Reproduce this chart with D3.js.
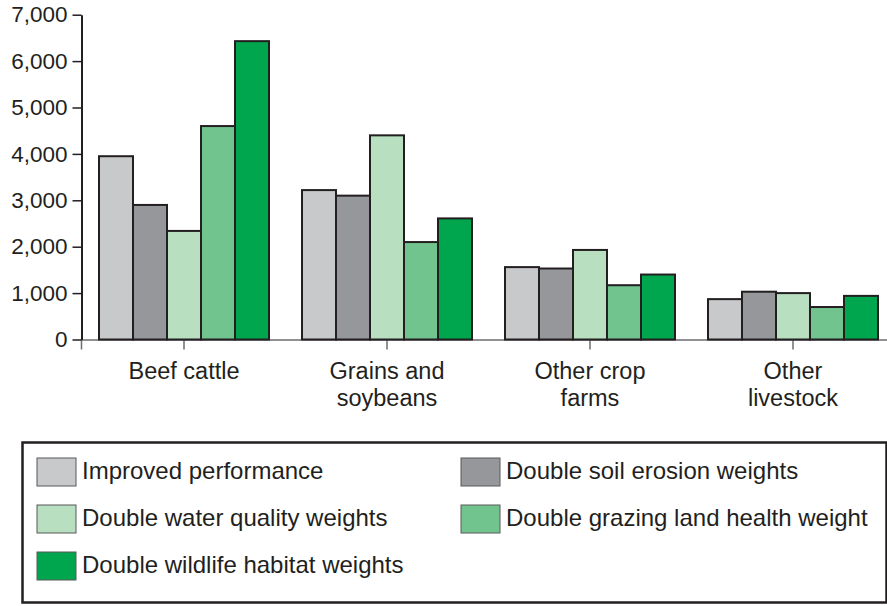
<!DOCTYPE html>
<html>
<head>
<meta charset="utf-8">
<script src="https://cdn.jsdelivr.net/npm/d3@7"></script>
<style>
  html, body { margin: 0; padding: 0; background: #fff; }
  svg { display: block; font-family: "Liberation Sans", Arial, sans-serif; }
</style>
</head>
<body>
<svg id="chart" width="887" height="606"></svg>
<script>
// categories (x groups), each label split into lines
const categories = ["Beef cattle", "Grains and soybeans", "Other crop farms", "Other livestock"];
const categoryLines = [["Beef cattle"], ["Grains and", "soybeans"], ["Other crop", "farms"], ["Other", "livestock"]];

// series names (legend order)
const seriesNames = [
    "Improved performance",
    "Double soil erosion weights",
    "Double water quality weights",
    "Double grazing land health weight",
    "Double wildlife habitat weights"
];
const seriesColors = ["#c8c9cb", "#96979b", "#b7dfc0", "#72c48f", "#00a64d"];

// values per series, one per category
const improvedPerformance = [3950, 3220, 1560, 870];
const doubleSoilErosion   = [2900, 3100, 1530, 1030];
const doubleWaterQuality  = [2340, 4400, 1930, 1000];
const doubleGrazingLand   = [4600, 2100, 1170, 700];
const doubleWildlife      = [6430, 2610, 1400, 940];

const yTicks = [0, 1000, 2000, 3000, 4000, 5000, 6000, 7000];

const seriesValues = [improvedPerformance, doubleSoilErosion, doubleWaterQuality, doubleGrazingLand, doubleWildlife];

//build table: one row per category with every series value
const table = categories.map((c, i) => ({
    category: c,
    lines: categoryLines[i],
    values: seriesNames.map((s, j) => ({ series: s, value: seriesValues[j][i] }))
}));

const ink = "#231f20";
const svg = d3.select("#chart");

//scales
const x = d3.scaleBand()
    .domain(categories)
    .range([81, 896])
    .paddingInner(0.1626)
    .paddingOuter(0.0887);

const xInner = d3.scaleBand()
    .domain(seriesNames)
    .range([0, x.bandwidth()])
    .padding(0);

const y = d3.scaleLinear()
    .domain([0, 7000])
    .range([339.5, 14.7]);

const color = d3.scaleOrdinal().domain(seriesNames).range(seriesColors);

//x axis (thin gray line + ticks under the groups)
const xAxis = svg.append("g")
    .attr("transform", `translate(0,${y(0)})`)
    .call(d3.axisBottom(x).tickSizeOuter(0).tickSize(10).tickFormat(""));
xAxis.select(".domain").attr("stroke", "#6d6e71").attr("stroke-width", 1.5);
xAxis.selectAll(".tick line").attr("stroke", "#6d6e71").attr("stroke-width", 1.5);

//bars
svg.append("g")
    .selectAll("g")
    .data(table)
    .join("g")
    .attr("transform", d => `translate(${x(d.category)},0)`)
    .selectAll("rect")
    .data(d => d.values)
    .join("rect")
    .attr("x", d => xInner(d.series))
    .attr("y", d => y(d.value))
    .attr("width", xInner.bandwidth())
    .attr("height", d => y(0) - y(d.value))
    .attr("fill", d => color(d.series))
    .attr("stroke", ink)
    .attr("stroke-width", 2);

//y axis
const yAxis = svg.append("g")
    .attr("transform", "translate(81.5,0)")
    .call(d3.axisLeft(y)
        .tickValues(yTicks)
        .tickSize(9)
        .tickSizeOuter(0)
        .tickPadding(5)
        .tickFormat(d3.format(",")));
yAxis.select(".domain").attr("stroke", ink).attr("stroke-width", 2);
yAxis.selectAll(".tick line").attr("stroke", ink).attr("stroke-width", 1.5);
yAxis.selectAll(".tick text")
    .attr("fill", ink)
    .style("font-size", "22.5px")
    .style("font-family", "Liberation Sans, Arial, sans-serif");

//category labels
svg.append("g")
    .selectAll("text")
    .data(table)
    .join("text")
    .attr("text-anchor", "middle")
    .attr("fill", ink)
    .style("font-size", "23.5px")
    .selectAll("tspan")
    .data(d => d.lines.map(l => ({ line: l, category: d.category })))
    .join("tspan")
    .attr("x", d => x(d.category) + x.bandwidth() / 2)
    .attr("y", (d, i) => 379 + i * 27)
    .text(d => d.line);

//legend box
svg.append("rect")
    .attr("x", 22.5)
    .attr("y", 442.5)
    .attr("width", 864)
    .attr("height", 160)
    .attr("fill", "white")
    .attr("stroke", ink)
    .attr("stroke-width", 2.5);

//legend items: 2 columns, 3 rows
const legendCols = [37, 461];
const legendRows = [458, 505, 552];
const legend = svg.append("g")
    .selectAll("g")
    .data(seriesNames)
    .join("g")
    .attr("transform", (d, i) => `translate(${legendCols[i % 2]},${legendRows[Math.floor(i / 2)]})`);

legend.append("rect")
    .attr("width", 39)
    .attr("height", 28)
    .attr("fill", d => color(d))
    .attr("stroke", "#58595b")
    .attr("stroke-width", 1);

legend.append("text")
    .attr("x", 45)
    .attr("y", 21)
    .attr("fill", ink)
    .style("font-size", "24px")
    .text(d => d);
</script>
</body>
</html>
